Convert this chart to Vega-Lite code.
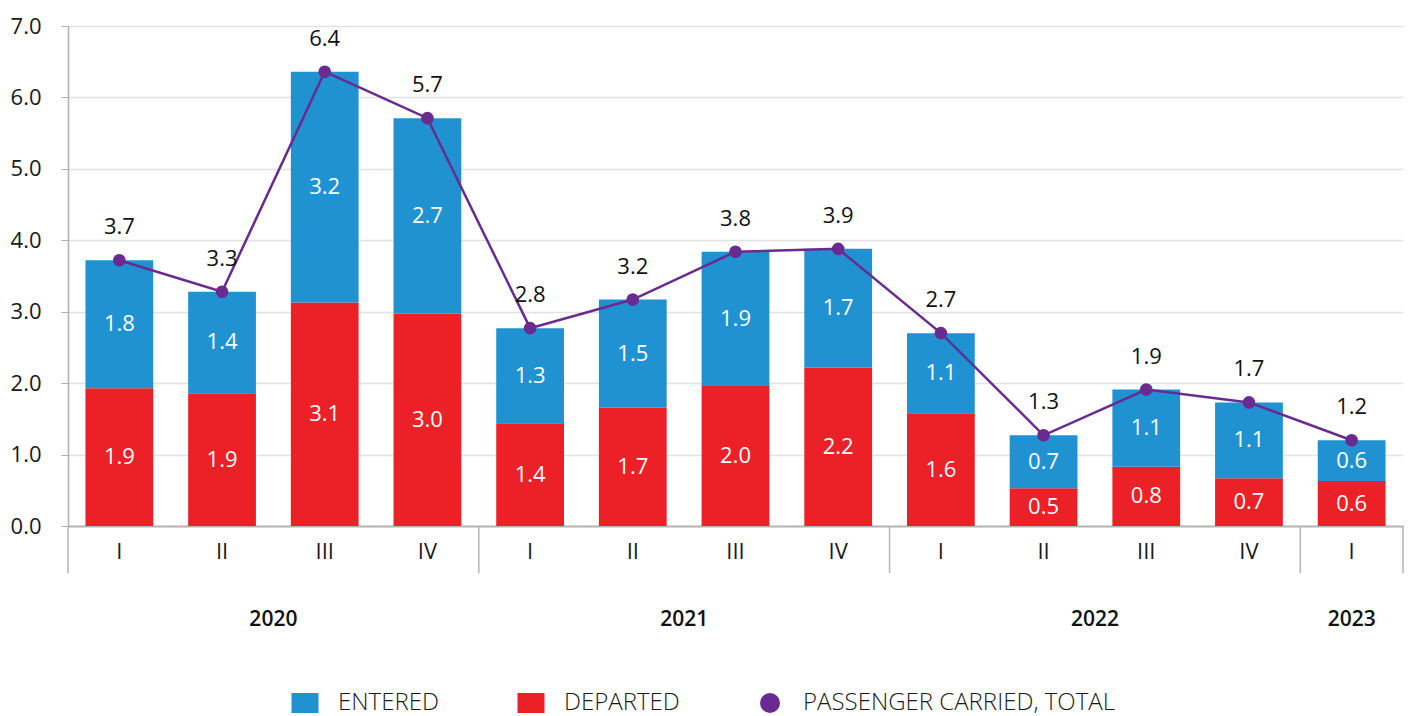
{
  "$schema": "https://vega.github.io/schema/vega-lite/v6.json",
  "width": 1335,
  "height": 500,
  "autosize": {"type": "none"},
  "padding": {"left": 68, "top": 26, "right": 5, "bottom": 190},
  "config": {
    "font": "Open Sans",
    "view": {"stroke": null},
    "axis": {"labelFont": "Open Sans", "labelColor": "#1a1a1a"},
    "legend": {"padding": 0}
  },
  "datasets": {
    "quarters": [
      {"q": "2020-I", "departed": 1.93, "entered": 1.79, "total": 3.72},
      {"q": "2020-II", "departed": 1.86, "entered": 1.42, "total": 3.28},
      {"q": "2020-III", "departed": 3.13, "entered": 3.23, "total": 6.36},
      {"q": "2020-IV", "departed": 2.97, "entered": 2.74, "total": 5.71},
      {"q": "2021-I", "departed": 1.44, "entered": 1.33, "total": 2.77},
      {"q": "2021-II", "departed": 1.66, "entered": 1.51, "total": 3.17},
      {"q": "2021-III", "departed": 1.96, "entered": 1.88, "total": 3.84},
      {"q": "2021-IV", "departed": 2.22, "entered": 1.66, "total": 3.88},
      {"q": "2022-I", "departed": 1.58, "entered": 1.12, "total": 2.7},
      {"q": "2022-II", "departed": 0.53, "entered": 0.74, "total": 1.27},
      {"q": "2022-III", "departed": 0.83, "entered": 1.08, "total": 1.91},
      {"q": "2022-IV", "departed": 0.67, "entered": 1.06, "total": 1.73},
      {"q": "2023-I", "departed": 0.63, "entered": 0.57, "total": 1.2}
    ],
    "years": [
      {"year": "2020", "center": 2},
      {"year": "2021", "center": 6},
      {"year": "2022", "center": 10},
      {"year": "2023", "center": 12.5}
    ],
    "dividers": [{"at": 0}, {"at": 4}, {"at": 8}, {"at": 12}, {"at": 13}]
  },
  "layer": [
    {
      "layer": [
        {
          "data": {"name": "quarters"},
          "transform": [{"fold": ["departed", "entered"], "as": ["series", "value"]}],
          "mark": {"type": "bar"},
          "encoding": {
            "x": {
              "field": "q", "type": "nominal", "sort": null,
              "scale": {"paddingInner": 0.34, "paddingOuter": 0.17},
              "axis": {
                "title": null, "labelAngle": 0, "ticks": false,
                "labelExpr": "split(datum.label, '-')[1]",
                "labelFontSize": 22, "labelPadding": 15,
                "domainColor": "#b5b5b5", "domainWidth": 2, "grid": false
              }
            },
            "y": {
              "field": "value", "type": "quantitative", "stack": "zero",
              "scale": {"domain": [0, 7], "nice": false, "zero": false},
              "axis": {
                "title": null, "format": ".1f", "values": [0, 1, 2, 3, 4, 5, 6, 7],
                "labelOverlap": false, "labelFlush": false, "labelBound": false,
                "labelFontSize": 22, "labelPadding": 20, "tickSize": 7, "tickColor": "#b0b0b0",
                "domainColor": "#b0b0b0", "domainWidth": 1.5,
                "gridColor": "#e2e2e2", "gridWidth": 1.5
              }
            },
            "order": {"field": "series", "sort": "ascending"},
            "color": {
              "field": "series", "type": "nominal",
              "scale": {
                "domain": ["entered", "departed", "passenger carried, total"],
                "range": ["#2192d1", "#ec2128", "#6a2b91"]
              },
              "legend": {
                "title": null, "orient": "none", "direction": "horizontal",
                "legendX": 225, "legendY": 665,
                "labelExpr": "upper(datum.label)", "labelFontSize": 24, "labelColor": "#1a1a1a",
                "labelLimit": 0, "labelFontWeight": 300,
                "symbolSize": 400, "columnPadding": 78, "labelOffset": 21,
                "encode": {
                  "symbols": {
                    "update": {
                      "shape": {"signal": "datum.value === 'passenger carried, total' ? 'circle' : 'M-1.35,-1L1.35,-1L1.35,1L-1.35,1Z'"},
                      "strokeWidth": {"value": 0},
                      "opacity": {"value": 1}
                    }
                  }
                }
              }
            }
          }
        },
        {
          "data": {"name": "quarters"},
          "transform": [
            {"fold": ["departed", "entered"], "as": ["series", "value"]},
            {"stack": "value", "groupby": ["q"], "sort": [{"field": "series", "order": "ascending"}], "as": ["v0", "v1"]},
            {"fold": ["v0", "v1"], "as": ["edge", "pos"]},
            {"aggregate": [{"op": "mean", "field": "pos", "as": "mid"}], "groupby": ["q", "series", "value"]}
          ],
          "mark": {"type": "text", "color": "white", "fontSize": 22, "baseline": "middle"},
          "encoding": {
            "x": {"field": "q", "type": "nominal", "sort": null},
            "y": {"field": "mid", "type": "quantitative", "stack": null},
            "text": {"field": "value", "type": "quantitative", "format": ".1f"}
          }
        },
        {
          "data": {"name": "quarters"},
          "mark": {"type": "line", "color": "#6a2b91", "strokeWidth": 2.5},
          "encoding": {
            "x": {"field": "q", "type": "nominal", "sort": null},
            "y": {"field": "total", "type": "quantitative"}
          }
        },
        {
          "data": {"name": "quarters"},
          "mark": {"type": "point", "filled": true, "opacity": 1, "size": 160},
          "encoding": {
            "x": {"field": "q", "type": "nominal", "sort": null},
            "y": {"field": "total", "type": "quantitative"},
            "color": {"datum": "passenger carried, total"}
          }
        },
        {
          "data": {"name": "quarters"},
          "mark": {"type": "text", "color": "#111111", "fontSize": 22, "dy": -33, "baseline": "middle"},
          "encoding": {
            "x": {"field": "q", "type": "nominal", "sort": null},
            "y": {"field": "total", "type": "quantitative"},
            "text": {"field": "total", "type": "quantitative", "format": ".1f"}
          }
        }
      ]
    },
    {
      "layer": [
        {
          "data": {"name": "dividers"},
          "mark": {"type": "rule", "color": "#b5b5b5", "strokeWidth": 1.5},
          "encoding": {
            "x": {"field": "at", "type": "quantitative", "scale": {"domain": [0, 13], "nice": false, "zero": false}, "axis": null},
            "y": {"datum": 0},
            "y2": {"datum": -0.66}
          }
        },
        {
          "data": {"name": "years"},
          "mark": {"type": "text", "fontSize": 21, "fontWeight": 600, "color": "#111111", "baseline": "middle"},
          "encoding": {
            "x": {"field": "center", "type": "quantitative", "axis": null},
            "y": {"datum": -1.32},
            "text": {"field": "year", "type": "nominal"}
          }
        }
      ]
    }
  ],
  "resolve": {"scale": {"x": "independent"}, "axis": {"x": "independent"}}
}
